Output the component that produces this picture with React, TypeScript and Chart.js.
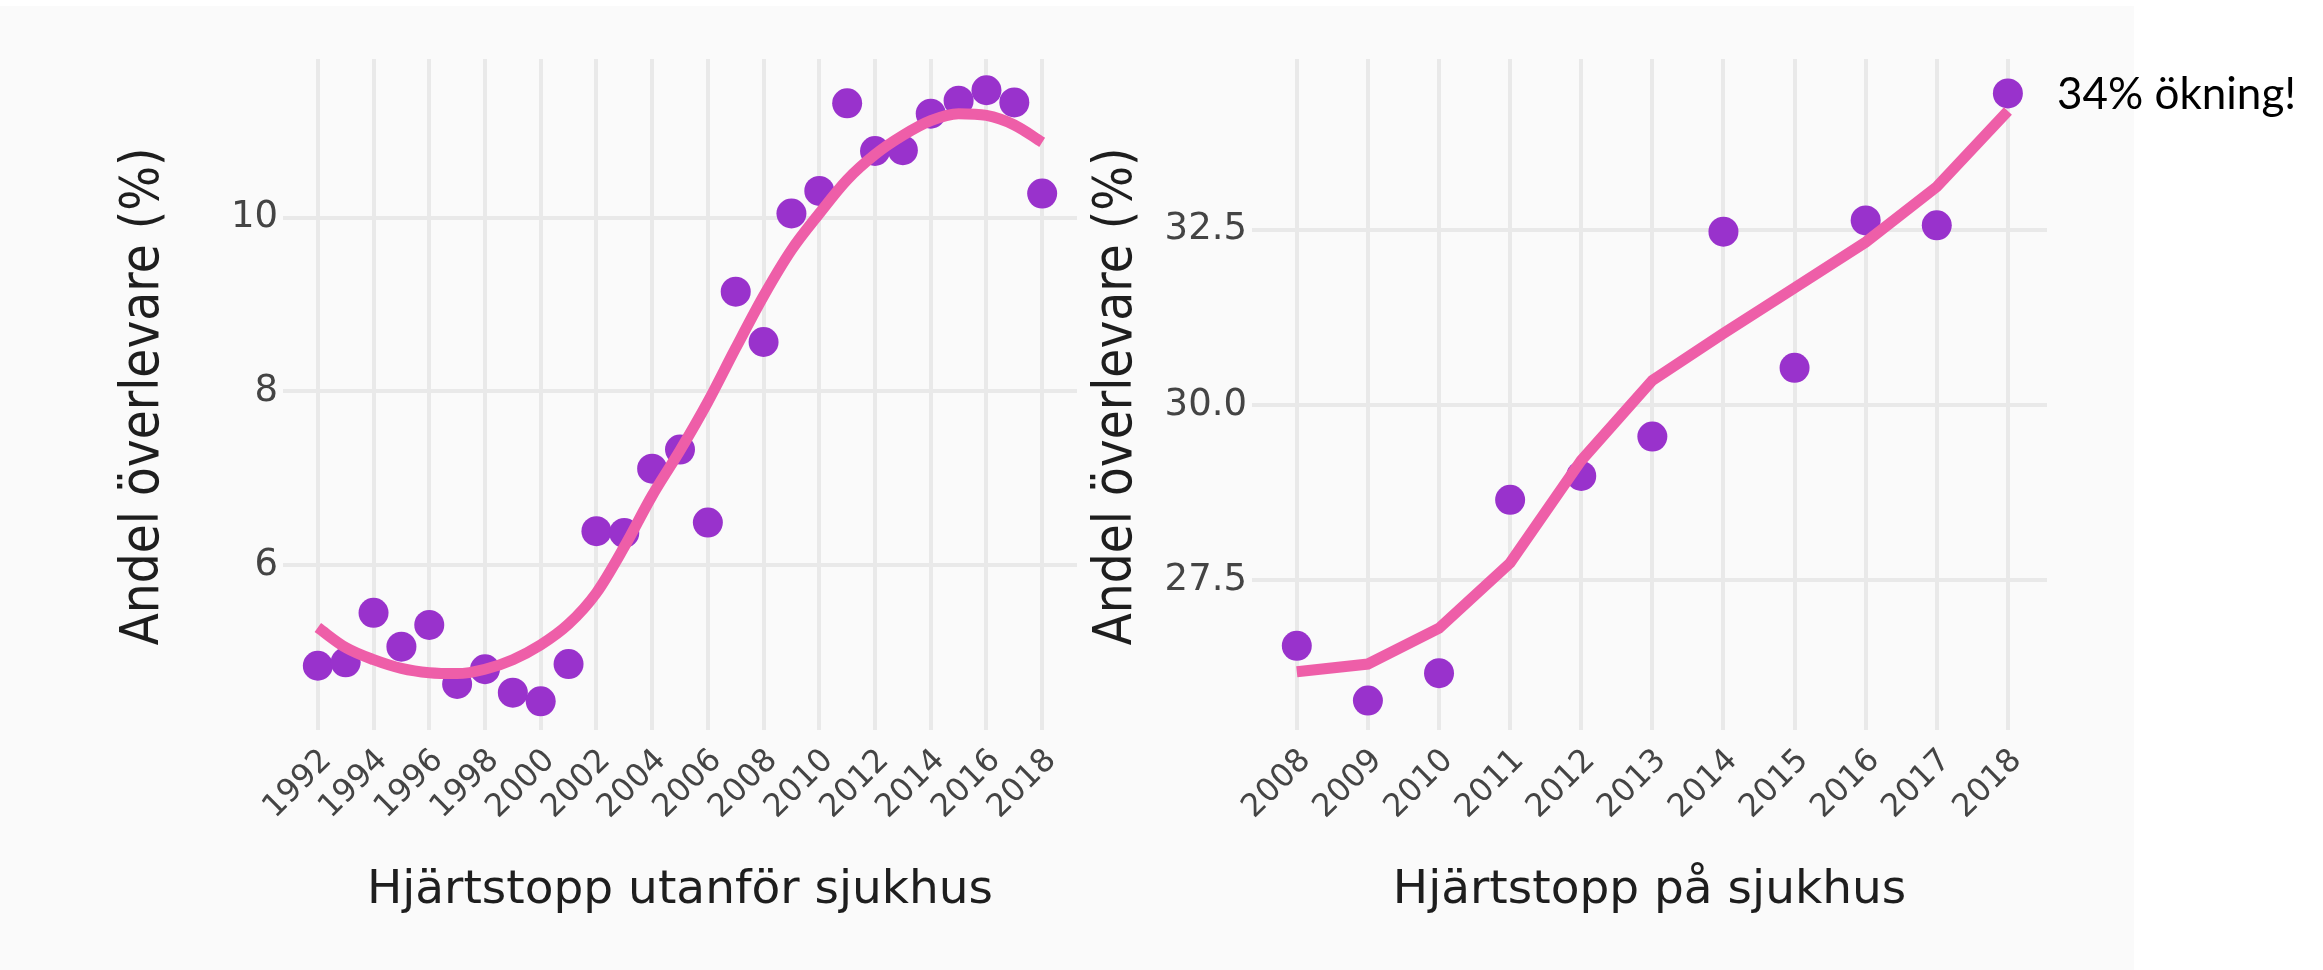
import React, { useEffect, useRef } from "react";
import { Chart, registerables } from "chart.js";

Chart.register(...registerables);

// ---------- Data ----------
const outsideYears = [1992, 1993, 1994, 1995, 1996, 1997, 1998, 1999, 2000, 2001, 2002, 2003, 2004, 2005, 2006, 2007, 2008, 2009, 2010, 2011, 2012, 2013, 2014, 2015, 2016, 2017, 2018];
const outsideSurvival = [4.84, 4.88, 5.45, 5.06, 5.31, 4.63, 4.8, 4.53, 4.43, 4.86, 6.39, 6.37, 7.11, 7.33, 6.49, 9.15, 8.57, 10.05, 10.31, 11.32, 10.77, 10.78, 11.2, 11.35, 11.47, 11.33, 10.28];
const outsideTrend = [5.28, 5.05, 4.91, 4.81, 4.76, 4.75, 4.8, 4.91, 5.08, 5.32, 5.68, 6.21, 6.8, 7.32, 7.88, 8.5, 9.1, 9.63, 10.05, 10.44, 10.73, 10.95, 11.12, 11.2, 11.18, 11.07, 10.87];
const outsideXTicks = [1992, 1994, 1996, 1998, 2000, 2002, 2004, 2006, 2008, 2010, 2012, 2014, 2016, 2018];
const outsideYTicks = [6, 8, 10];

const hospitalYears = [2008, 2009, 2010, 2011, 2012, 2013, 2014, 2015, 2016, 2017, 2018];
const hospitalSurvival = [26.57, 25.79, 26.18, 28.65, 28.99, 29.55, 32.47, 30.53, 32.63, 32.56, 34.44];
const hospitalTrend = [26.2, 26.31, 26.82, 27.75, 29.21, 30.35, 31.02, 31.67, 32.32, 33.11, 34.19];
const hospitalXTicks = [2008, 2009, 2010, 2011, 2012, 2013, 2014, 2015, 2016, 2017, 2018];
const hospitalYTicks = [27.5, 30, 32.5];

const yAxisTitle = "Andel överlevare (%)";
const outsideXTitle = "Hjärtstopp utanför sjukhus";
const hospitalXTitle = "Hjärtstopp på sjukhus";
const annotationText = "34% ökning!";

// ---------- Styles ----------
const POINT_COLOR = "#9932CC";
const TREND_COLOR = "rgb(238,94,168)";
const GRID_COLOR = "#e9e9e9";
const TICK_COLOR = "#444444";
const TITLE_COLOR = "#1e1e1e";
const TICK_FONT = '"DejaVu Sans", sans-serif';
const TITLE_FONT = '"DejaVu Sans", sans-serif';

type PanelSpec = {
  left: number;
  width: number;
  height: number;
  years: number[];
  values: number[];
  trend: number[];
  xTicks: number[];
  yTicks: number[];
  xMin: number;
  xMax: number;
  yMin: number;
  yMax: number;
  yAxisWidth: number;
  padRight: number;
  smooth: boolean;
  yDecimals: number;
  xTitle: string;
  yTitleX: number;
  annotation?: string;
};

function makeChart(canvas: HTMLCanvasElement, p: PanelSpec) {
  const titles = {
    id: "panelTitles",
    afterDraw(chart: any) {
      const { ctx, chartArea, scales } = chart;
      ctx.save();
      ctx.fillStyle = TITLE_COLOR;
      ctx.font = `47px ${TITLE_FONT}`;
      ctx.textAlign = "center";
      ctx.textBaseline = "alphabetic";
      ctx.fillText(p.xTitle, (chartArea.left + chartArea.right) / 2, 903);
      ctx.save();
      ctx.font = `53px ${TITLE_FONT}`;
      const w = ctx.measureText(yAxisTitle).width;
      ctx.translate(p.yTitleX, (chartArea.top + chartArea.bottom) / 2 + 2);
      ctx.rotate(-Math.PI / 2);
      ctx.scale(498 / w, 1);
      ctx.textBaseline = "middle";
      ctx.fillText(yAxisTitle, 0, 0);
      ctx.restore();
      if (p.annotation) {
        const n = p.years.length - 1;
        const px = scales.x.getPixelForValue(p.years[n]);
        const py = scales.y.getPixelForValue(p.values[n]);
        ctx.fillStyle = "#000000";
        ctx.font = '44px Lato, "Open Sans", sans-serif';
        ctx.textAlign = "left";
        ctx.textBaseline = "alphabetic";
        ctx.fillText(p.annotation, px + 49, py + 16);
      }
      ctx.restore();
    },
  };

  return new Chart(canvas, {
    type: "scatter",
    data: {
      datasets: [
        {
          type: "line",
          data: p.years.map((x, i) => ({ x, y: p.trend[i] })),
          borderColor: TREND_COLOR,
          borderWidth: 11,
          pointRadius: 0,
          fill: false,
          tension: p.smooth ? 0.4 : 0,
          cubicInterpolationMode: p.smooth ? "monotone" : "default",
          order: 0,
          clip: false,
        } as any,
        {
          type: "scatter",
          data: p.years.map((x, i) => ({ x, y: p.values[i] })),
          backgroundColor: POINT_COLOR,
          borderColor: POINT_COLOR,
          pointRadius: 15,
          pointBorderWidth: 0,
          order: 1,
          clip: false,
        } as any,
      ],
    },
    options: {
      responsive: false,
      animation: false,
      devicePixelRatio: 1,
      layout: { padding: { left: 0, top: 59, right: p.padRight, bottom: 0 } },
      plugins: { legend: { display: false }, tooltip: { enabled: false } },
      scales: {
        x: {
          type: "linear",
          min: p.xMin,
          max: p.xMax,
          afterBuildTicks: (s: any) => {
            s.ticks = p.xTicks.map((v) => ({ value: v }));
          },
          afterFit: (s: any) => {
            s.height = p.height - 730;
            s.paddingLeft = 0;
            s.paddingRight = 0;
          },
          grid: { color: GRID_COLOR, lineWidth: 4, drawTicks: false },
          border: { display: false },
          ticks: {
            autoSkip: false,
            minRotation: 45,
            maxRotation: 45,
            padding: 12,
            labelOffset: 9,
            color: TICK_COLOR,
            font: { family: TICK_FONT, size: 32 },
            callback: (v: any) => String(v),
          },
        },
        y: {
          type: "linear",
          min: p.yMin,
          max: p.yMax,
          afterBuildTicks: (s: any) => {
            s.ticks = p.yTicks.map((v) => ({ value: v }));
          },
          afterFit: (s: any) => {
            s.width = p.yAxisWidth;
            s.paddingTop = 0;
            s.paddingBottom = 0;
          },
          grid: { color: GRID_COLOR, lineWidth: 4, drawTicks: false },
          border: { display: false },
          ticks: {
            padding: 5,
            color: TICK_COLOR,
            font: { family: TICK_FONT, size: 37 },
            callback: (v: any) => Number(v).toFixed(p.yDecimals),
          },
        },
      },
    },
    plugins: [titles as any],
  });
}

function Panel({ spec }: { spec: PanelSpec }) {
  const ref = useRef<HTMLCanvasElement | null>(null);
  useEffect(() => {
    if (!ref.current) return;
    const chart = makeChart(ref.current, spec);
    return () => chart.destroy();
  }, [spec]);
  return (
    <canvas
      ref={ref}
      width={spec.width}
      height={spec.height}
      style={{ position: "absolute", left: spec.left, top: 0, width: spec.width, height: spec.height }}
    />
  );
}

const outsideSpec: PanelSpec = {
  left: 0,
  width: 1100,
  height: 970,
  years: outsideYears,
  values: outsideSurvival,
  trend: outsideTrend,
  xTicks: outsideXTicks,
  yTicks: outsideYTicks,
  xMin: 1990.75,
  xMax: 2019.25,
  yMin: 4.1,
  yMax: 11.83,
  yAxisWidth: 283,
  padRight: 23,
  smooth: true,
  yDecimals: 0,
  xTitle: outsideXTitle,
  yTitleX: 144,
};

const hospitalSpec: PanelSpec = {
  left: 1080,
  width: 1243,
  height: 970,
  years: hospitalYears,
  values: hospitalSurvival,
  trend: hospitalTrend,
  xTicks: hospitalXTicks,
  yTicks: hospitalYTicks,
  xMin: 2007.37,
  xMax: 2018.55,
  yMin: 25.37,
  yMax: 34.93,
  yAxisWidth: 172,
  padRight: 276,
  smooth: false,
  yDecimals: 1,
  xTitle: hospitalXTitle,
  yTitleX: 37,
  annotation: annotationText,
};

export default function App() {
  return (
    <div style={{ position: "absolute", left: 0, top: 0, width: 2323, height: 970, background: "#ffffff", overflow: "hidden" }}>
      <div style={{ position: "absolute", left: 0, top: 6, width: 2134, height: 964, background: "#fafafa" }} />
      <Panel spec={outsideSpec} />
      <Panel spec={hospitalSpec} />
    </div>
  );
}
